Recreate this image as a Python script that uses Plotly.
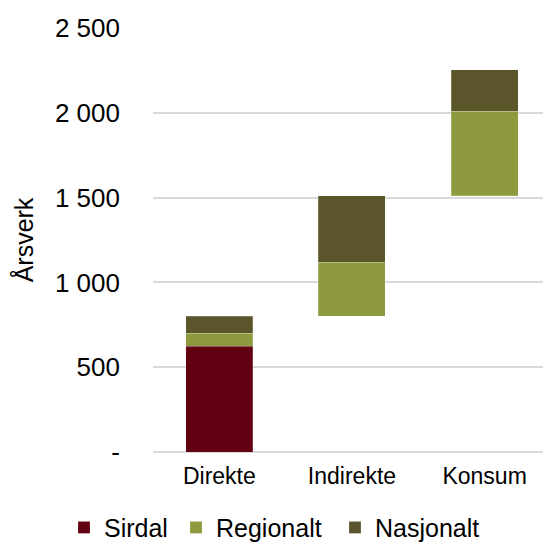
import plotly.graph_objects as go

categories = ["Direkte", "Indirekte", "Konsum"]
sirdal = [625, 0, 0]
regionalt = [75, 320, 500]
nasjonalt = [100, 390, 245]

# invisible offset so each category starts where the previous one ended
totals = [s + r + n for s, r, n in zip(sirdal, regionalt, nasjonalt)]
offset = [sum(totals[:i]) for i in range(len(totals))]

tick_vals = [0, 500, 1000, 1500, 2000, 2500]
tick_text = ["-", "500", "1 000", "1 500", "2 000", "2 500"]

colors = {"Sirdal": "#600010", "Regionalt": "#8f9a40", "Nasjonalt": "#5b552c"}

W = 544
fig = go.Figure()
fig.add_bar(x=categories, y=offset,
            marker=dict(color="rgba(0,0,0,0)", line=dict(width=0)),
            showlegend=False, hoverinfo="skip")
series = [("Sirdal", sirdal, "legend", 64),
          ("Regionalt", regionalt, "legend2", 176),
          ("Nasjonalt", nasjonalt, "legend3", 335)]
legend_layout = {}
for name, vals, lg, left_px in series:
    fig.add_bar(x=categories, y=vals, name=name, legend=lg,
                marker=dict(color=colors[name], line=dict(color="rgba(255,255,255,0.4)", width=0.5)))
    legend_layout[lg] = dict(orientation="h", xref="container", x=left_px / W, xanchor="left",
                             yref="container", y=0.03, yanchor="middle",
                             font=dict(size=25), bgcolor="rgba(0,0,0,0)")

fig.update_layout(
    width=W, height=544,
    barmode="stack", bargap=0.495,
    paper_bgcolor="white", plot_bgcolor="white",
    margin=dict(l=153, r=1, t=28, b=92),
    font=dict(family="Liberation Sans, Arial", color="#000000"),
    showlegend=True,
    xaxis=dict(range=[-0.5, 2.44], showgrid=False, showline=False,
               tickfont=dict(size=23), ticks="", ticklabelstandoff=8),
    yaxis=dict(range=[0, 2500], tickvals=tick_vals, ticktext=tick_text,
               showgrid=True, gridcolor="#d9d9d9", gridwidth=1.5,
               zeroline=True, zerolinecolor="#d9d9d9", zerolinewidth=1.5,
               tickfont=dict(size=26), ticklabelstandoff=32,
               title=dict(text="Årsverk", font=dict(size=25), standoff=14)),
    **legend_layout,
)

fig.write_html("out.html", config={"displayModeBar": False},
               post_script="document.body.style.margin='0';")
